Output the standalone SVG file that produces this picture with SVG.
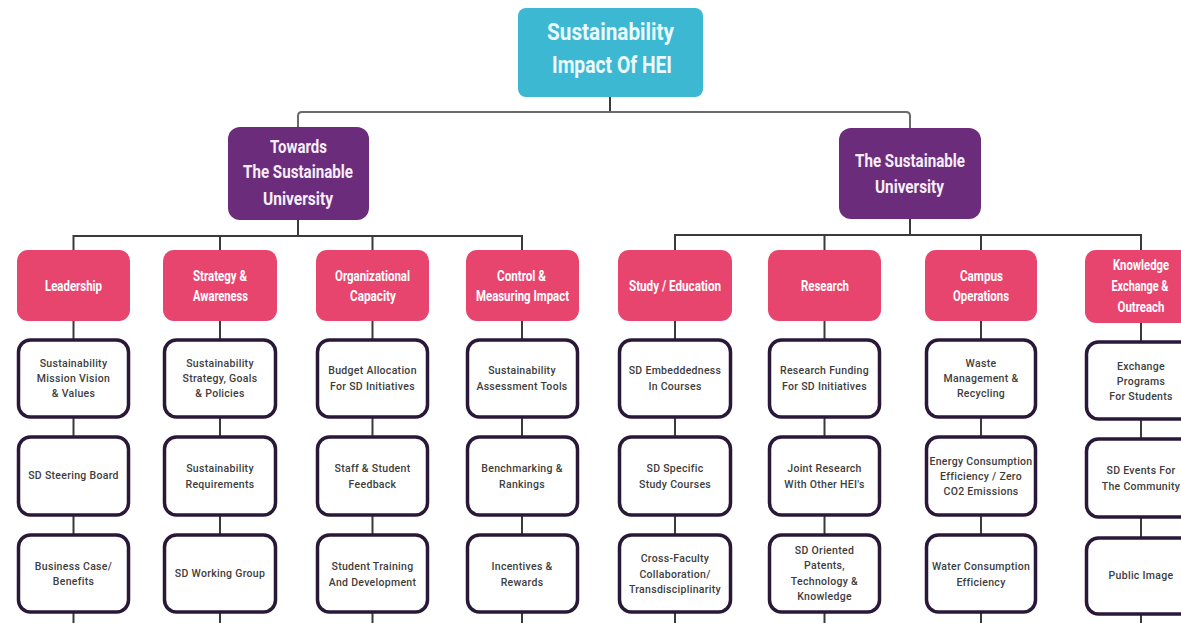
<svg xmlns="http://www.w3.org/2000/svg" width="1181" height="623" viewBox="0 0 1181 623">
<style>
.bg{fill:#ffffff}
.conn{fill:none;stroke:#3a3a3a;stroke-width:2}
.connh{fill:none;stroke:#6a6a6a;stroke-width:2}
.root{fill:#3cb8d3}
.purple{fill:#6b2d7b}
.pink{fill:#e8456e}
.leaf{fill:#ffffff;stroke:#2a1838;stroke-width:3.5}
.t1{font-family:Roboto,"Liberation Sans",sans-serif;font-weight:700;fill:#eafaff;font-size:24px;text-anchor:middle}
.t2{font-family:Roboto,"Liberation Sans",sans-serif;font-weight:700;fill:#f6eefa;font-size:18px;text-anchor:middle}
.t3{font-family:Roboto,"Liberation Sans",sans-serif;font-weight:700;fill:#ffffff;font-size:14px;text-anchor:middle}
.t4{font-family:Roboto,"Liberation Sans",sans-serif;font-weight:500;fill:#3d3d3d;font-size:10.5px;letter-spacing:0.3px;text-anchor:middle;dominant-baseline:central}
</style>
<rect class="bg" x="0" y="0" width="1181" height="623"/>
<g id="connectors">
<path class="conn" d="M610 97 V112"/>
<path class="connh" d="M298 127 V116 Q298 112 302 112 H906 Q910 112 910 116 V128"/>
<path class="conn" d="M298 220 V236"/>
<path class="conn" d="M73.5 250 V236 H522 V250 M220 236 V250 M372.5 236 V250"/>
<path class="conn" d="M910 219 V235"/>
<path class="conn" d="M675 250 V235 H1141 V250 M824.5 235 V250 M981 235 V250"/>
<path class="conn" d="M73.5 321 V623 M220 321 V623 M372.5 321 V623 M522 321 V623 M675 321 V623 M824.5 321 V623 M981 321 V623 M1141 323 V623"/>
</g>
<g id="root">
<rect class="root" x="518" y="8" width="185" height="89" rx="8"/>
<text class="t1" x="610.5" y="40" textLength="127" lengthAdjust="spacingAndGlyphs">Sustainability</text>
<text class="t1" x="612" y="73" textLength="120" lengthAdjust="spacingAndGlyphs">Impact Of HEI</text>
</g>
<g id="towards">
<rect class="purple" x="228" y="127" width="141" height="93" rx="12"/>
<text class="t2" x="298.5" y="153" textLength="57" lengthAdjust="spacingAndGlyphs">Towards</text>
<text class="t2" x="298" y="178" textLength="110" lengthAdjust="spacingAndGlyphs">The Sustainable</text>
<text class="t2" x="298" y="205" textLength="70" lengthAdjust="spacingAndGlyphs">University</text>
</g>
<g id="sustainable">
<rect class="purple" x="839" y="128" width="142" height="91" rx="12"/>
<text class="t2" x="910" y="167" textLength="110" lengthAdjust="spacingAndGlyphs">The Sustainable</text>
<text class="t2" x="909.5" y="193" textLength="69" lengthAdjust="spacingAndGlyphs">University</text>
</g>
<g id="leadership">
<rect class="pink" x="17" y="250" width="113" height="71" rx="11"/>
<text class="t3" x="73.5" y="291" textLength="57" lengthAdjust="spacingAndGlyphs">Leadership</text>
</g>
<g id="strategy">
<rect class="pink" x="163" y="250" width="114" height="71" rx="11"/>
<text class="t3" x="220" y="281" textLength="54" lengthAdjust="spacingAndGlyphs">Strategy &amp;</text>
<text class="t3" x="220.5" y="301" textLength="55" lengthAdjust="spacingAndGlyphs">Awareness</text>
</g>
<g id="organizational">
<rect class="pink" x="316" y="250" width="113" height="71" rx="11"/>
<text class="t3" x="372.5" y="281" textLength="75" lengthAdjust="spacingAndGlyphs">Organizational</text>
<text class="t3" x="373" y="301" textLength="46" lengthAdjust="spacingAndGlyphs">Capacity</text>
</g>
<g id="control">
<rect class="pink" x="466" y="250" width="113" height="71" rx="11"/>
<text class="t3" x="521.5" y="281" textLength="49" lengthAdjust="spacingAndGlyphs">Control &amp;</text>
<text class="t3" x="522.5" y="301" textLength="93" lengthAdjust="spacingAndGlyphs">Measuring Impact</text>
</g>
<g id="study">
<rect class="pink" x="618" y="250" width="114" height="71" rx="11"/>
<text class="t3" x="675" y="291" textLength="92" lengthAdjust="spacingAndGlyphs">Study / Education</text>
</g>
<g id="research">
<rect class="pink" x="768" y="250" width="113" height="71" rx="11"/>
<text class="t3" x="825" y="291" textLength="48" lengthAdjust="spacingAndGlyphs">Research</text>
</g>
<g id="campus">
<rect class="pink" x="925" y="250" width="112" height="71" rx="11"/>
<text class="t3" x="981.5" y="281" textLength="43" lengthAdjust="spacingAndGlyphs">Campus</text>
<text class="t3" x="981" y="301" textLength="56" lengthAdjust="spacingAndGlyphs">Operations</text>
</g>
<g id="knowledge">
<rect class="pink" x="1085" y="250" width="113" height="73" rx="11"/>
<text class="t3" x="1141" y="270" textLength="56" lengthAdjust="spacingAndGlyphs">Knowledge</text>
<text class="t3" x="1140" y="291" font-size="13" textLength="57" lengthAdjust="spacingAndGlyphs">Exchange &amp;</text>
<text class="t3" x="1141" y="312" textLength="47" lengthAdjust="spacingAndGlyphs">Outreach</text>
</g>
<g id="l1a"><rect class="leaf" x="18.5" y="340" width="110" height="77" rx="12"/>
<text class="t4" x="73.5" y="363">Sustainability</text><text class="t4" x="73.5" y="378">Mission Vision</text><text class="t4" x="73.5" y="393">&amp; Values</text></g>
<g id="l1b"><rect class="leaf" x="18.5" y="437" width="110" height="78" rx="12"/>
<text class="t4" x="73.5" y="475">SD Steering Board</text></g>
<g id="l1c"><rect class="leaf" x="18.5" y="535" width="110" height="77" rx="12"/>
<text class="t4" x="73.5" y="566">Business Case/</text><text class="t4" x="73.5" y="581">Benefits</text></g>
<g id="l2a"><rect class="leaf" x="164.5" y="340" width="111" height="77" rx="12"/>
<text class="t4" x="220" y="363">Sustainability</text><text class="t4" x="220" y="378">Strategy, Goals</text><text class="t4" x="220" y="393">&amp; Policies</text></g>
<g id="l2b"><rect class="leaf" x="164.5" y="437" width="111" height="78" rx="12"/>
<text class="t4" x="220" y="468">Sustainability</text><text class="t4" x="220" y="484">Requirements</text></g>
<g id="l2c"><rect class="leaf" x="164.5" y="535" width="111" height="77" rx="12"/>
<text class="t4" x="220" y="573">SD Working Group</text></g>
<g id="l3a"><rect class="leaf" x="317.5" y="340" width="110" height="77" rx="12"/>
<text class="t4" x="372.5" y="370">Budget Allocation</text><text class="t4" x="372.5" y="386">For SD Initiatives</text></g>
<g id="l3b"><rect class="leaf" x="317.5" y="437" width="110" height="78" rx="12"/>
<text class="t4" x="372.5" y="468">Staff &amp; Student</text><text class="t4" x="372.5" y="484">Feedback</text></g>
<g id="l3c"><rect class="leaf" x="317.5" y="535" width="110" height="77" rx="12"/>
<text class="t4" x="372.5" y="566">Student Training</text><text class="t4" x="372.5" y="582">And Development</text></g>
<g id="l4a"><rect class="leaf" x="467.5" y="340" width="110" height="77" rx="12"/>
<text class="t4" x="522" y="370">Sustainability</text><text class="t4" x="522" y="386">Assessment Tools</text></g>
<g id="l4b"><rect class="leaf" x="467.5" y="437" width="110" height="78" rx="12"/>
<text class="t4" x="522" y="468">Benchmarking &amp;</text><text class="t4" x="522" y="484">Rankings</text></g>
<g id="l4c"><rect class="leaf" x="467.5" y="535" width="110" height="77" rx="12"/>
<text class="t4" x="522" y="566">Incentives &amp;</text><text class="t4" x="522" y="582">Rewards</text></g>
<g id="l5a"><rect class="leaf" x="619.5" y="340" width="111" height="77" rx="12"/>
<text class="t4" x="675" y="370">SD Embeddedness</text><text class="t4" x="675" y="386">In Courses</text></g>
<g id="l5b"><rect class="leaf" x="619.5" y="437" width="111" height="78" rx="12"/>
<text class="t4" x="675" y="468">SD Specific</text><text class="t4" x="675" y="484">Study Courses</text></g>
<g id="l5c"><rect class="leaf" x="619.5" y="535" width="111" height="77" rx="12"/>
<text class="t4" x="675" y="558">Cross-Faculty</text><text class="t4" x="675" y="574">Collaboration/</text><text class="t4" x="675" y="589">Transdisciplinarity</text></g>
<g id="l6a"><rect class="leaf" x="769.5" y="340" width="110" height="77" rx="12"/>
<text class="t4" x="824.5" y="370">Research Funding</text><text class="t4" x="824.5" y="386">For SD Initiatives</text></g>
<g id="l6b"><rect class="leaf" x="769.5" y="437" width="110" height="78" rx="12"/>
<text class="t4" x="824.5" y="468">Joint Research</text><text class="t4" x="824.5" y="484">With Other HEI's</text></g>
<g id="l6c"><rect class="leaf" x="769.5" y="535" width="110" height="77" rx="12"/>
<text class="t4" x="824.5" y="550">SD Oriented</text><text class="t4" x="824.5" y="565">Patents,</text><text class="t4" x="824.5" y="581">Technology &amp;</text><text class="t4" x="824.5" y="596">Knowledge</text></g>
<g id="l7a"><rect class="leaf" x="926.5" y="340" width="109" height="77" rx="12"/>
<text class="t4" x="981" y="363">Waste</text><text class="t4" x="981" y="378">Management &amp;</text><text class="t4" x="981" y="393">Recycling</text></g>
<g id="l7b"><rect class="leaf" x="926.5" y="437" width="109" height="78" rx="12"/>
<text class="t4" x="981" y="461">Energy Consumption</text><text class="t4" x="981" y="476">Efficiency / Zero</text><text class="t4" x="981" y="491">CO2 Emissions</text></g>
<g id="l7c"><rect class="leaf" x="926.5" y="535" width="109" height="77" rx="12"/>
<text class="t4" x="981" y="566">Water Consumption</text><text class="t4" x="981" y="582">Efficiency</text></g>
<g id="l8a"><rect class="leaf" x="1086.5" y="342" width="111" height="77" rx="12"/>
<text class="t4" x="1141" y="366">Exchange</text><text class="t4" x="1141" y="381">Programs</text><text class="t4" x="1141" y="396">For Students</text></g>
<g id="l8b"><rect class="leaf" x="1086.5" y="439" width="111" height="78" rx="12"/>
<text class="t4" x="1141" y="470">SD Events For</text><text class="t4" x="1141" y="486">The Community</text></g>
<g id="l8c"><rect class="leaf" x="1086.5" y="538" width="111" height="76" rx="12"/>
<text class="t4" x="1141" y="575">Public Image</text></g>
</svg>
